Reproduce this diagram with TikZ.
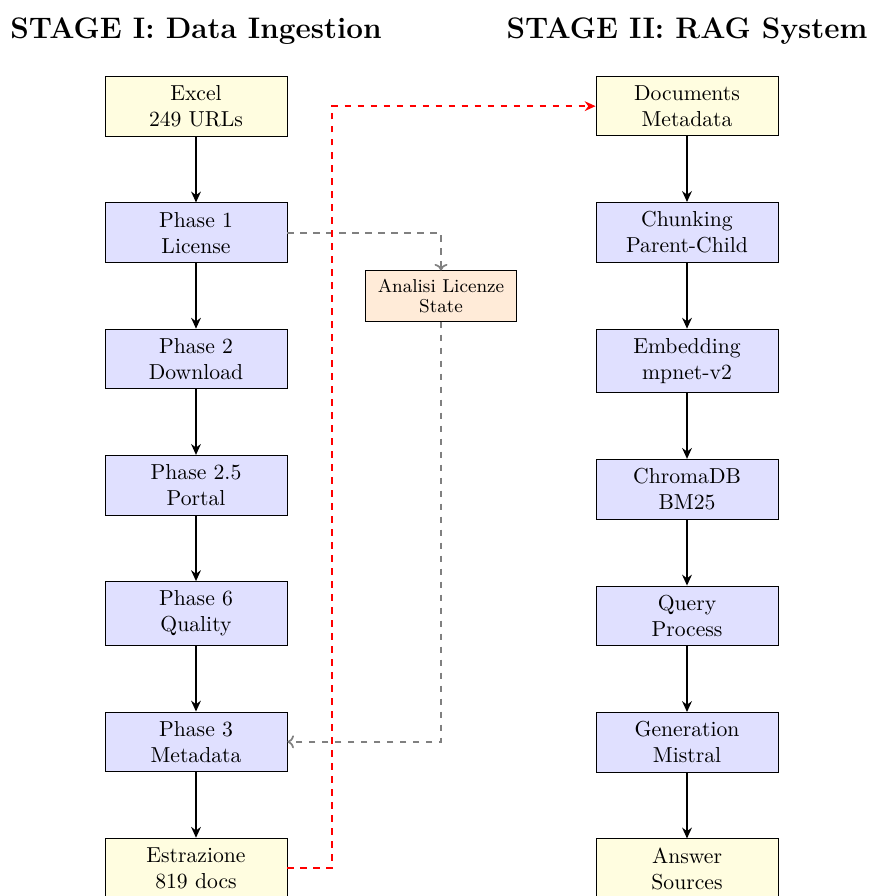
\documentclass[tikz,border=0pt]{standalone}
\usetikzlibrary{arrows.meta,positioning}
\definecolor{boxyellow}{HTML}{FFFDE0}
\definecolor{boxblue}{HTML}{E0E0FF}
\definecolor{boxorange}{HTML}{FFEBD8}
\tikzset{
  basebox/.style={draw=black, align=center, minimum width=84pt, inner sep=4.25pt, font=\fontsize{10}{12}\selectfont, anchor=north},
  ybox/.style={basebox, fill=boxyellow},
  bbox/.style={basebox, fill=boxblue},
  obox/.style={draw=black, fill=boxorange, align=center, inner sep=4pt, minimum width=69.7pt, font=\fontsize{8.6}{8.8}\selectfont},
  flow/.style={thick, -{Stealth[length=5pt,width=4.5pt]}},
  reddash/.style={thick, red, dashed, -{Stealth[length=5pt,width=4.5pt]}},
  graydash/.style={thick, gray, dashed, -{To[length=3pt,width=6pt]}},
  stagetitle/.style={font=\fontsize{13.7}{16}\bfseries\selectfont, inner sep=0pt, anchor=base},
}
\begin{document}
\begin{tikzpicture}[x=0.4615pt, y=-0.4615pt]
\useasboundingbox (0,0) rectangle (869,896);
\node[stagetitle] (t1) at (196,39) {STAGE I: Data Ingestion};
\node[stagetitle] (t2) at (687,39) {STAGE II: RAG System};
% left column
\node[ybox] (excel) at (196,76) {Excel\\249 URLs};
\node[bbox, below=30.3pt of excel] (p1) {Phase 1\\License};
\node[bbox, below=30.3pt of p1] (p2) {Phase 2\\Download};
\node[bbox, below=30.3pt of p2] (p25) {Phase 2.5\\Portal};
\node[bbox, below=30.3pt of p25] (p6) {Phase 6\\Quality};
\node[bbox, below=30.3pt of p6] (p3) {Phase 3\\Metadata};
\node[ybox, below=30.3pt of p3] (estr) {Estrazione\\819 docs};
% right column
\node[ybox] (docs) at (687,76) {Documents\\Metadata};
\node[bbox, below=30.3pt of docs] (chunk) {Chunking\\Parent-Child};
\node[bbox, below=30.3pt of chunk] (emb) {Embedding\\mpnet-v2};
\node[bbox, below=30.3pt of emb] (chroma) {ChromaDB\\BM25};
\node[bbox, below=30.3pt of chroma] (query) {Query\\Process};
\node[bbox, below=30.3pt of query] (gen) {Generation\\Mistral};
\node[ybox, below=30.3pt of gen] (ans) {Answer\\Sources};
% license analysis
\node[obox] (lic) at (441,296) {Analisi Licenze\\State};
% arrows
\foreach \a/\b in {excel/p1,p1/p2,p2/p25,p25/p6,p6/p3,p3/estr,docs/chunk,chunk/emb,emb/chroma,chroma/query,query/gen,gen/ans}
  \draw[flow] (\a) -- (\b);
\draw[graydash] (p1.east) -| (lic.north);
\draw[graydash] (lic.south) |- (p3.east);
\coordinate (rx) at (332,0);
\draw[reddash] (estr.east) -| (rx |- docs.west) -- (docs.west);
\end{tikzpicture}
\end{document}
